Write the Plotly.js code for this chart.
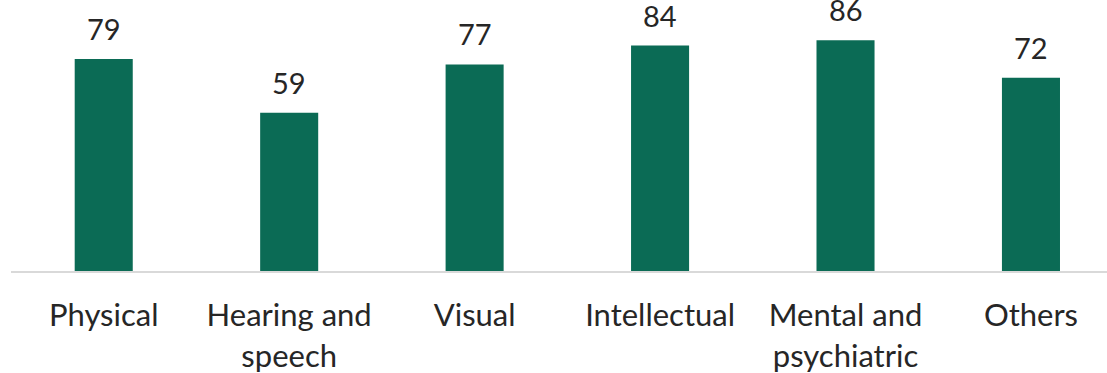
<!DOCTYPE html>
<html>
<head>
<meta charset="utf-8">
<script src="https://cdn.plot.ly/plotly-3.0.1.min.js"></script>
<style>html,body{margin:0;padding:0;background:#fff;}#chart{width:1107px;height:373px;}</style>
</head>
<body>
<div id="chart"></div>
<script>
const categories = ["Physical", "Hearing and<br>speech", "Visual", "Intellectual", "Mental and<br>psychiatric", "Others"];
const values = [79, 59, 77, 84, 86, 72];

const barColor = "#0B6B55";
const textColor = "#262626";
const fontFamily = "Lato, 'Open Sans', sans-serif";

const trace = {
  type: "bar",
  x: categories,
  y: values,
  marker: {color: barColor},
  hoverinfo: "none"
};

const annotations = categories.map((c, i) => ({
  x: c, y: values[i], xref: "x", yref: "y",
  text: String(values[i]),
  showarrow: false,
  yanchor: "bottom",
  yshift: 11,
  font: {family: fontFamily, size: 29, color: textColor}
}));

const layout = {
  width: 1107, height: 373,
  margin: {l: 11, r: 0, t: 0, b: 102},
  paper_bgcolor: "#fff", plot_bgcolor: "#fff",
  bargap: 0.687,
  showlegend: false,
  xaxis: {
    type: "category",
    range: [-0.5, 5.41],
    showline: true, linecolor: "#D9D9D9", linewidth: 2,
    showgrid: false, zeroline: false, ticks: "",
    ticklabelstandoff: 16,
    tickfont: {family: fontFamily, size: 31, color: textColor},
    fixedrange: true
  },
  yaxis: {
    range: [0, 101],
    visible: false,
    showgrid: false, zeroline: false, fixedrange: true
  },
  annotations: annotations
};

Plotly.newPlot("chart", [trace], layout, {displayModeBar: false, staticPlot: true});
</script>
</body>
</html>
